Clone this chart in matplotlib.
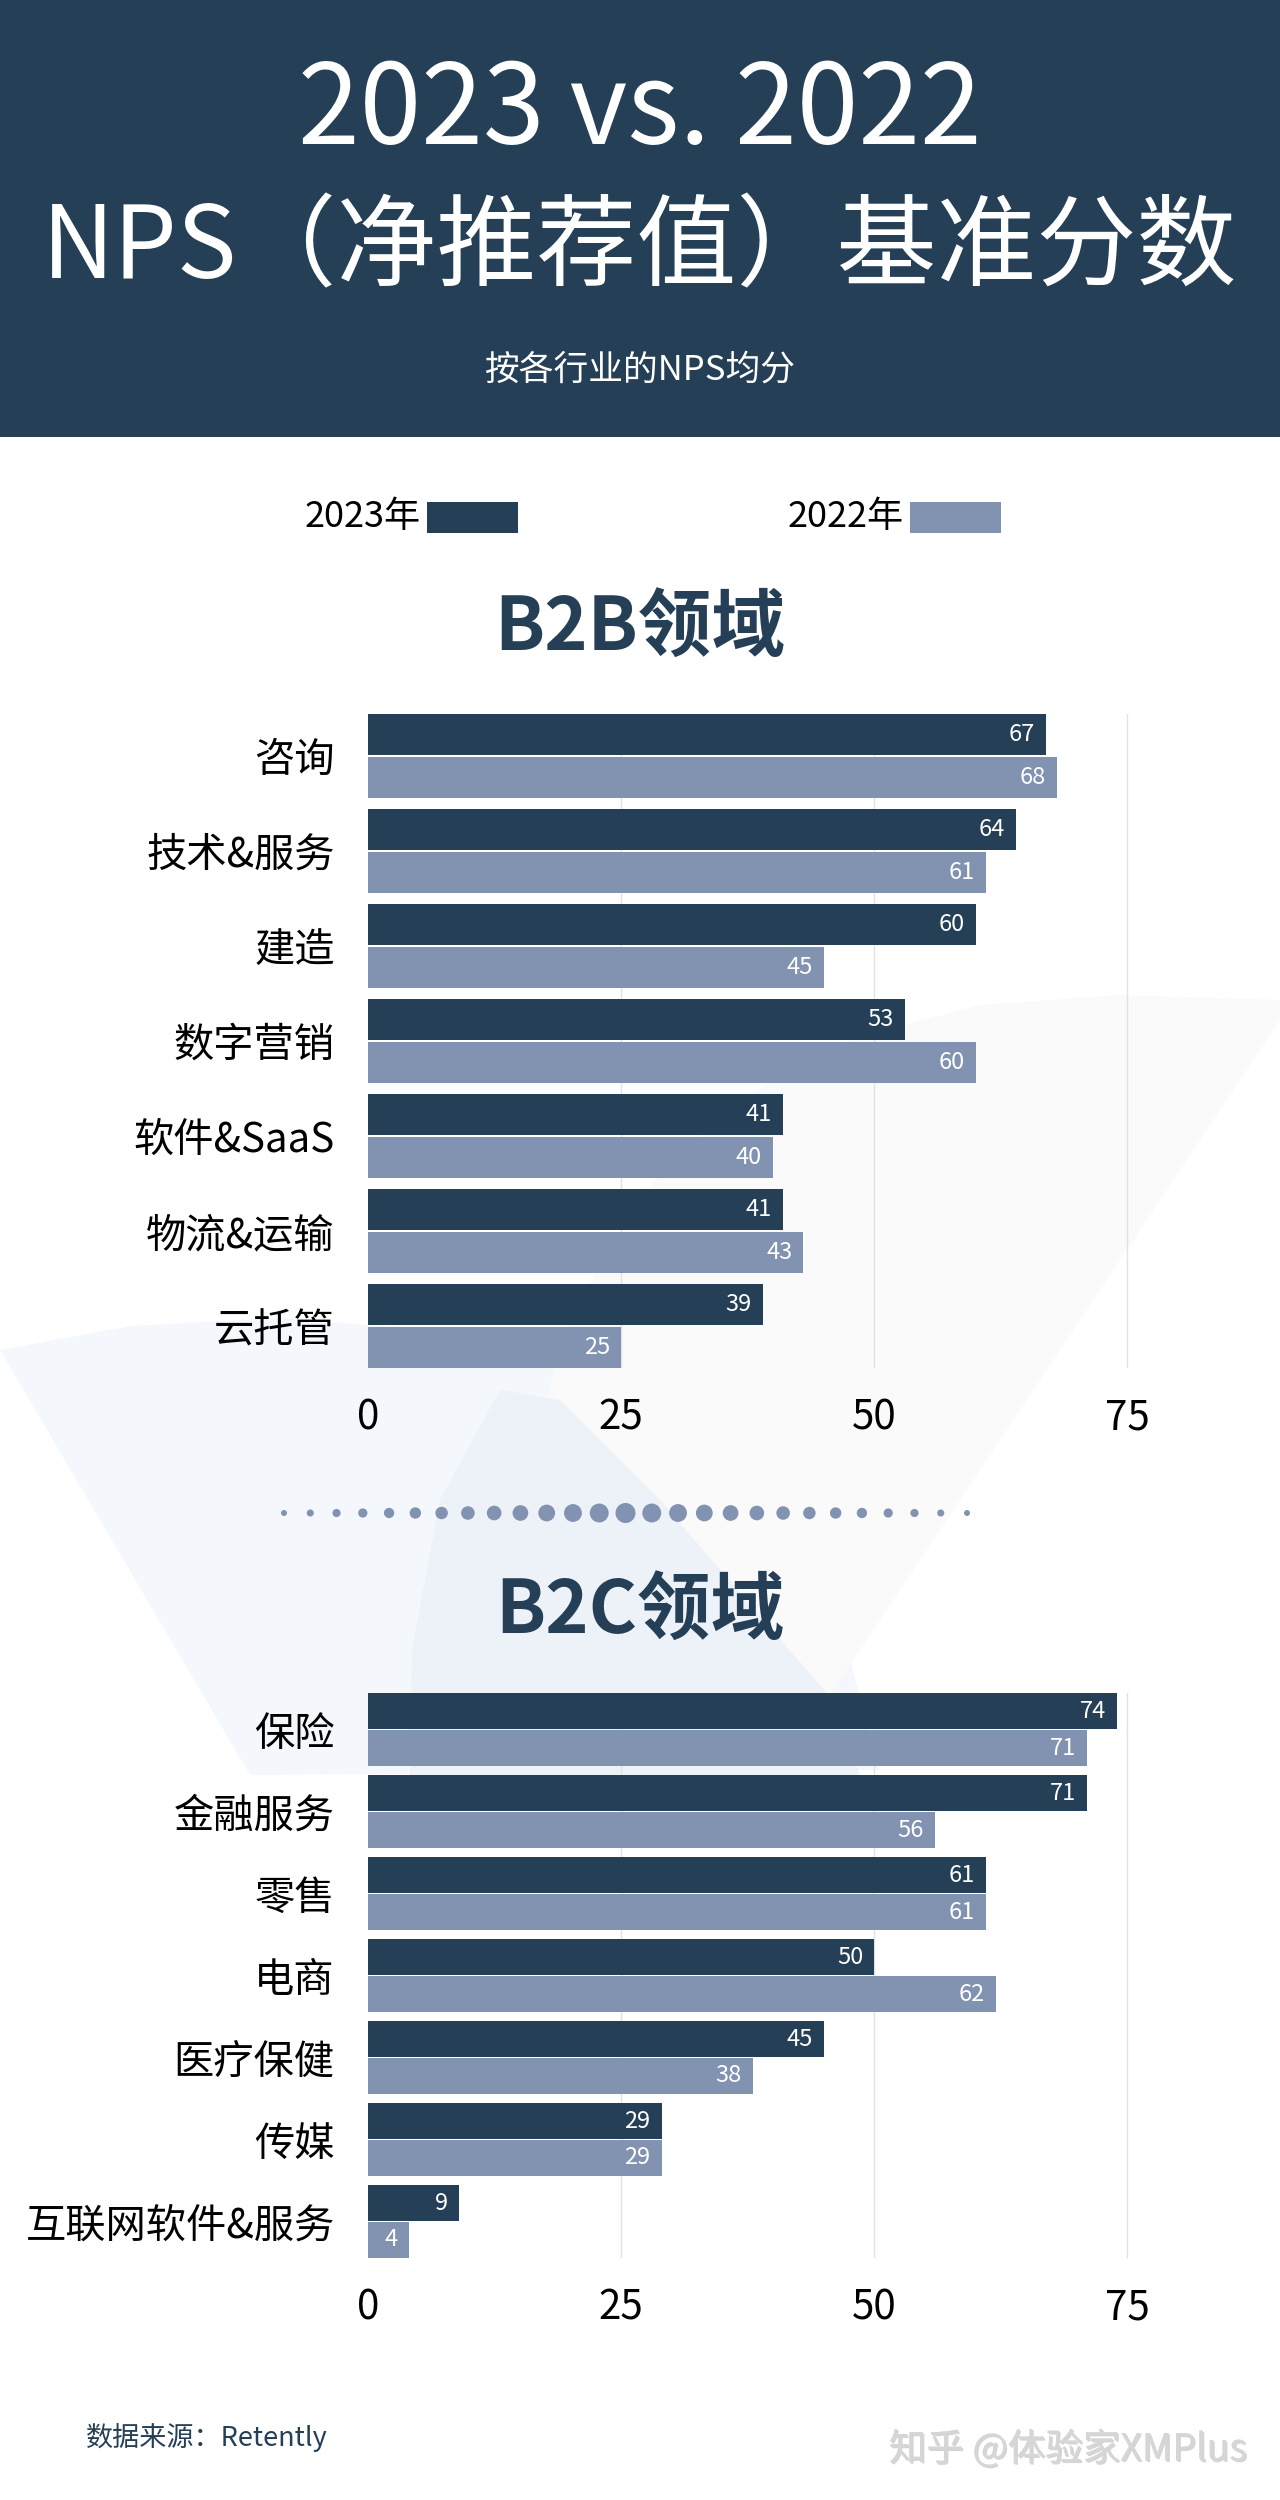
import numpy as np
import matplotlib.pyplot as plt
from matplotlib.patches import Rectangle, Circle, Polygon
import matplotlib.patheffects as pe

plt.rcParams['font.family'] = ['Noto Sans CJK SC', 'DejaVu Sans']

# data
b2b_labels = ['咨询', '技术&服务', '建造', '数字营销', '软件&SaaS', '物流&运输', '云托管']
b2b_2023 = [67, 64, 60, 53, 41, 41, 39]
b2b_2022 = [68, 61, 45, 60, 40, 43, 25]

b2c_labels = ['保险', '金融服务', '零售', '电商', '医疗保健', '传媒', '互联网软件&服务']
b2c_2023 = [74, 71, 61, 50, 45, 29, 9]
b2c_2022 = [71, 56, 61, 62, 38, 29, 4]

x_ticks = [0, 25, 50, 75]
years = ['2023年', '2022年']

NAVY = '#243f56'
SLATE = '#8292b1'
W, H = 1280, 2500

fig = plt.figure(figsize=(W / 100, H / 100), dpi=100)
fig.patch.set_facecolor('white')
T = fig.dpi_scale_trans


def P(x, y):
    # pixel position from the top left corner -> inches for dpi_scale_trans
    return (x / 100, (H - y) / 100)


# faint background fans
fans = [
    ('#f4f8fc', [(0, 1350), (130, 1326), (280, 1318), (430, 1330), (560, 1365),
                 (680, 1430), (780, 1530), (850, 1660), (880, 1770), (250, 1775)]),
    ('#fafafb', [(830, 1695), (1280, 1020), (1280, 1000), (1120, 995), (980, 1005),
                 (850, 1040), (730, 1105), (640, 1195), (570, 1320), (540, 1420)]),
    ('#edf2f9', [(500, 1390), (560, 1400), (660, 1500), (824, 1690), (860, 1775),
                 (410, 1780), (412, 1650), (440, 1500)]),
]
for col, pts in fans:
    fig.add_artist(Polygon([P(x, y) for x, y in pts], closed=True, transform=T,
                           facecolor=col, edgecolor='none', zorder=-5))

# header
fig.add_artist(Rectangle(P(0, 437), W / 100, 437 / 100, transform=T,
                         facecolor=NAVY, edgecolor='none', zorder=-4))
fig.text(*P(640, 112), '2023 vs. 2022', transform=T, ha='center', va='center',
         color='white', fontsize=80, fontweight='medium')
fig.text(*P(640, 250), 'NPS（净推荐值）基准分数', transform=T, ha='center', va='center',
         color='white', fontsize=72, fontweight='medium')
fig.text(*P(640, 370), '按各行业的NPS均分', transform=T, ha='center', va='center',
         color='white', fontsize=25, fontweight='medium')

# legend
for i, (lab, col) in enumerate(zip(years, [NAVY, SLATE])):
    x0 = [427, 910][i]
    fig.text(*P(x0 - 6, 517), lab, transform=T, ha='right', va='center',
             color='black', fontsize=26)
    fig.add_artist(Rectangle(P(x0, 533), 0.91, 0.31, transform=T,
                             facecolor=col, edgecolor='none'))


def chart(top, bottom, labels, v23, v22, pitch, bar_px, gap_px, title, title_y):
    ax = fig.add_axes([368 / W, 1 - bottom / H, 810 / W, (bottom - top) / H])
    ax.patch.set_alpha(0)
    n = len(labels)
    y = np.arange(n)
    h = bar_px / pitch
    g = gap_px / pitch
    ax.barh(y, v23, height=h, align='edge', color=NAVY, zorder=2)
    ax.barh(y + h + g, v22, height=h, align='edge', color=SLATE, zorder=2)
    for yy, vals in [(y + h / 2, v23), (y + h + g + h / 2, v22)]:
        for yi, v in zip(yy, vals):
            ax.annotate(str(v), (v, yi), xytext=(-8, 0), textcoords='offset points',
                        ha='right', va='center', color='white', fontsize=17, zorder=3)
    for t in x_ticks[1:]:
        ax.axvline(t, color='#e2e2e2', lw=1, zorder=1)
    ax.set_xlim(0, 80)
    ax.set_ylim(n - 1 + 2 * h + g, 0)
    ax.set_xticks(x_ticks)
    ax.set_yticks(y + h + g / 2, labels)
    ax.tick_params(axis='x', length=0, pad=21, labelsize=29, labelcolor='black')
    ax.tick_params(axis='y', length=0, pad=24, labelsize=29, labelcolor='black')
    for s in ax.spines.values():
        s.set_visible(False)
    fig.text(*P(640, title_y), title, transform=T, ha='center', va='center',
             color=NAVY, fontsize=53, fontweight='bold')
    return ax


chart(714, 1368, b2b_labels, b2b_2023, b2b_2022, 95, 41, 2, 'B2B领域', 629)
chart(1693, 2258, b2c_labels, b2c_2023, b2c_2022, 82, 36, 1, 'B2C领域', 1612)

# dotted divider
n_dots = 27
xs = np.linspace(284, 967, n_dots)
for i, x in enumerate(xs):
    d = 6 + 14 * (1 - abs(i - (n_dots - 1) / 2) / ((n_dots - 1) / 2))
    fig.add_artist(Circle(P(x, 1513), d / 200, transform=T,
                          facecolor=SLATE, edgecolor='none'))

# footer
fig.text(*P(86, 2437), '数据来源：Retently', transform=T, ha='left', va='center',
         color=NAVY, fontsize=19.5)
fig.text(*P(1068, 2450), '知乎 @体验家XMPlus', transform=T, ha='center', va='center',
         color='#d6d6d6', fontsize=27,
         path_effects=[pe.withSimplePatchShadow(offset=(1, -1), shadow_rgbFace='#a0a0a0', alpha=0.45),
                       pe.Normal()])

fig.savefig('out.png', dpi=100)
